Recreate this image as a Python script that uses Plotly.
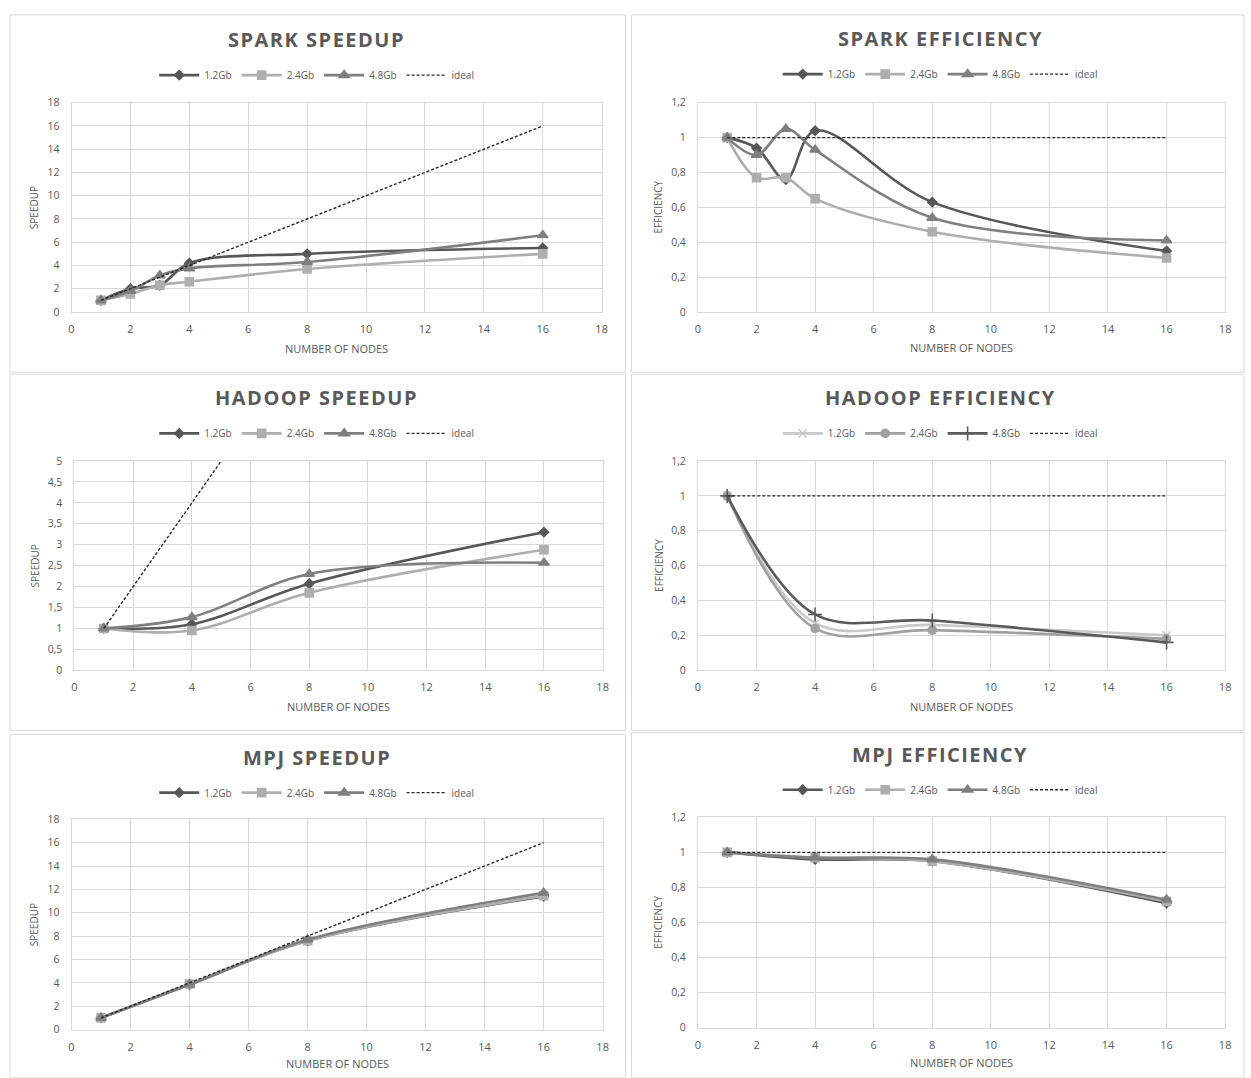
import plotly.graph_objects as go

W, H = 1251, 1078

# ---------------- DATA ----------------
series_names = ["1.2Gb", "2.4Gb", "4.8Gb", "ideal"]
x_ticks = [0, 2, 4, 6, 8, 10, 12, 14, 16, 18]

spark_nodes = [1, 2, 3, 4, 8, 16]
spark_speedup_12 = [1.0, 2.0, 2.3, 4.2, 5.0, 5.5]
spark_speedup_24 = [1.0, 1.55, 2.3, 2.6, 3.7, 5.0]
spark_speedup_48 = [1.0, 1.8, 3.15, 3.75, 4.3, 6.6]
spark_speedup_ideal = [1, 2, 3, 4, 8, 16]
spark_eff_12 = [1.0, 0.94, 0.76, 1.04, 0.63, 0.35]
spark_eff_24 = [1.0, 0.77, 0.77, 0.65, 0.46, 0.31]
spark_eff_48 = [1.0, 0.90, 1.05, 0.93, 0.54, 0.41]
spark_eff_ideal = [1, 1, 1, 1, 1, 1]

hadoop_nodes = [1, 4, 8, 16]
hadoop_speedup_12 = [1.0, 1.1, 2.07, 3.3]
hadoop_speedup_24 = [1.0, 0.95, 1.85, 2.88]
hadoop_speedup_48 = [1.0, 1.27, 2.3, 2.57]
hadoop_speedup_ideal = [1, 4, 8, 16]
hadoop_eff_12 = [1.0, 0.27, 0.26, 0.20]
hadoop_eff_24 = [1.0, 0.24, 0.23, 0.18]
hadoop_eff_48 = [1.0, 0.32, 0.285, 0.16]
hadoop_eff_ideal = [1, 1, 1, 1]

mpj_nodes = [1, 4, 8, 16]
mpj_speedup_12 = [1.0, 3.85, 7.6, 11.4]
mpj_speedup_24 = [1.0, 3.9, 7.6, 11.45]
mpj_speedup_48 = [1.0, 3.85, 7.7, 11.7]
mpj_speedup_ideal = [1, 4, 8, 16]
mpj_eff_12 = [1.0, 0.96, 0.95, 0.71]
mpj_eff_24 = [1.0, 0.97, 0.95, 0.72]
mpj_eff_48 = [1.0, 0.97, 0.96, 0.73]
mpj_eff_ideal = [1, 1, 1, 1]

speedup_ticks = [0, 2, 4, 6, 8, 10, 12, 14, 16, 18]
hadoop_speedup_ticks = [0, 0.5, 1, 1.5, 2, 2.5, 3, 3.5, 4, 4.5, 5]
eff_ticks = [0, 0.2, 0.4, 0.6, 0.8, 1.0, 1.2]

# ---------------- STYLE ----------------
TXT = "#595959"
GRID = "#d9d9d9"
FONT = "Open Sans"

std_styles = [
    dict(color="#575757", symbol="diamond", size=7),
    dict(color="#aeaeae", symbol="square", size=8),
    dict(color="#7f7f7f", symbol="triangle-up", size=9),
]
hadoop_eff_styles = [
    dict(color="#c9c9c9", symbol="x-thin", size=8),
    dict(color="#a0a0a0", symbol="circle", size=8),
    dict(color="#5a5a5a", symbol="cross-thin", size=10),
]

panels = [
    dict(title="SPARK SPEEDUP", ytitle="SPEEDUP", x=spark_nodes,
         ys=[spark_speedup_12, spark_speedup_24, spark_speedup_48, spark_speedup_ideal],
         yticks=speedup_ticks, yrange=[0, 18], styles=std_styles,
         px=(69, 603), py=(97, 309), cx=316, title_y=33, leg_y=69, xt_y=346, yt_x=32,
         box=(7, 8, 627, 370)),
    dict(title="SPARK EFFICIENCY", ytitle="EFFICIENCY", x=spark_nodes,
         ys=[spark_eff_12, spark_eff_24, spark_eff_48, spark_eff_ideal],
         yticks=eff_ticks, yrange=[0, 1.2], styles=std_styles,
         px=(700, 1231), py=(97, 309), cx=944, title_y=32, leg_y=68, xt_y=345, yt_x=660,
         box=(633, 8, 1250, 370)),
    dict(title="HADOOP SPEEDUP", ytitle="SPEEDUP", x=hadoop_nodes,
         ys=[hadoop_speedup_12, hadoop_speedup_24, hadoop_speedup_48, hadoop_speedup_ideal],
         yticks=hadoop_speedup_ticks, yrange=[0, 5], styles=std_styles,
         px=(72, 604), py=(460, 672), cx=316, title_y=396, leg_y=432, xt_y=709, yt_x=32,
         box=(7, 372, 627, 733)),
    dict(title="HADOOP EFFICIENCY", ytitle="EFFICIENCY", x=hadoop_nodes,
         ys=[hadoop_eff_12, hadoop_eff_24, hadoop_eff_48, hadoop_eff_ideal],
         yticks=eff_ticks, yrange=[0, 1.2], styles=hadoop_eff_styles,
         px=(700, 1231), py=(460, 672), cx=944, title_y=396, leg_y=432, xt_y=709, yt_x=660,
         box=(633, 372, 1250, 733)),
    dict(title="MPJ SPEEDUP", ytitle="SPEEDUP", x=mpj_nodes,
         ys=[mpj_speedup_12, mpj_speedup_24, mpj_speedup_48, mpj_speedup_ideal],
         yticks=speedup_ticks, yrange=[0, 18], styles=std_styles,
         px=(69, 604), py=(823, 1036), cx=316, title_y=760, leg_y=796, xt_y=1070, yt_x=32,
         box=(7, 737, 627, 1085)),
    dict(title="MPJ EFFICIENCY", ytitle="EFFICIENCY", x=mpj_nodes,
         ys=[mpj_eff_12, mpj_eff_24, mpj_eff_48, mpj_eff_ideal],
         yticks=eff_ticks, yrange=[0, 1.2], styles=std_styles,
         px=(700, 1231), py=(821, 1034), cx=944, title_y=757, leg_y=793, xt_y=1069, yt_x=660,
         box=(633, 735, 1250, 1085)),
]


def fx(p):
    return p / W


def fy(p):
    return 1 - p / H


def fmt(v):
    s = ("%g" % v)
    return s.replace(".", ",")


fig = go.Figure()
layout = dict(width=W, height=H, margin=dict(l=0, r=0, t=0, b=0),
              paper_bgcolor="white", plot_bgcolor="white",
              font=dict(family=FONT, color=TXT), showlegend=True)
annotations = []
shapes = []

for i, p in enumerate(panels):
    n = i + 1
    xa = "x" if n == 1 else f"x{n}"
    ya = "y" if n == 1 else f"y{n}"
    lg = "legend" if n == 1 else f"legend{n}"
    for k in range(3):
        st = p["styles"][k]
        fig.add_trace(go.Scatter(
            x=p["x"], y=p["ys"][k], name=series_names[k], mode="lines+markers",
            line=dict(color=st["color"], width=2.6, shape="spline", smoothing=1.0),
            marker=dict(symbol=st["symbol"], size=st["size"], color=st["color"],
                        line=dict(color=st["color"], width=1.6)),
            xaxis=xa, yaxis=ya, legend=lg, cliponaxis=True))
    fig.add_trace(go.Scatter(
        x=p["x"], y=p["ys"][3], name=series_names[3], mode="lines",
        line=dict(color="#262626", width=1.4, dash="3px,2px"),
        xaxis=xa, yaxis=ya, legend=lg))

    axkey_x = "xaxis" if n == 1 else f"xaxis{n}"
    axkey_y = "yaxis" if n == 1 else f"yaxis{n}"
    layout[axkey_x] = dict(
        domain=[fx(p["px"][0]), fx(p["px"][1])], anchor=ya, range=[0, 18],
        tickvals=x_ticks, ticktext=[str(t) for t in x_ticks],
        showgrid=True, gridcolor=GRID, gridwidth=1, zeroline=False,
        showline=True, linecolor=GRID, mirror=True,
        ticks="outside", ticklen=7, tickcolor="rgba(0,0,0,0)",
        tickfont=dict(size=11, color=TXT, family=FONT), fixedrange=True)
    layout[axkey_y] = dict(
        domain=[fy(p["py"][1]), fy(p["py"][0])], anchor=xa, range=p["yrange"],
        tickvals=p["yticks"], ticktext=[fmt(t) for t in p["yticks"]],
        showgrid=True, gridcolor=GRID, gridwidth=1, zeroline=False,
        showline=True, linecolor=GRID, mirror=True,
        ticks="outside", ticklen=9, tickcolor="rgba(0,0,0,0)",
        tickfont=dict(size=10.5, color=TXT, family=FONT), fixedrange=True)
    layout[lg] = dict(
        orientation="h", x=fx(p["cx"]), xanchor="center", y=fy(p["leg_y"]), yanchor="middle",
        font=dict(size=10, color=TXT, family=FONT), bgcolor="rgba(0,0,0,0)",
        itemwidth=40, tracegroupgap=0, entrywidth=0)

    annotations.append(dict(
        text=f"<span style=\"letter-spacing:1.5px\"><b>{p['title']}</b></span>",
        x=fx(p["cx"]), y=fy(p["title_y"]),
        xref="paper", yref="paper", xanchor="center", yanchor="middle", showarrow=False,
        font=dict(size=20, color=TXT, family=FONT)))
    annotations.append(dict(
        text="NUMBER OF NODES", x=fx((p["px"][0] + p["px"][1]) / 2), y=fy(p["xt_y"]),
        xref="paper", yref="paper", xanchor="center", yanchor="middle", showarrow=False,
        font=dict(size=11, color=TXT, family=FONT)))
    annotations.append(dict(
        text=p["ytitle"], x=fx(p["yt_x"]), y=fy((p["py"][0] + p["py"][1]) / 2),
        xref="paper", yref="paper", xanchor="center", yanchor="middle", showarrow=False,
        textangle=-90, font=dict(size=10, color=TXT, family=FONT)))
    b = p["box"]
    shapes.append(dict(type="rect", xref="paper", yref="paper",
                       x0=fx(b[0]), x1=fx(b[2]), y0=fy(b[3]), y1=fy(b[1]),
                       line=dict(color="#d9d9d9", width=1), fillcolor="rgba(0,0,0,0)",
                       layer="below"))

layout["annotations"] = annotations
layout["shapes"] = shapes
fig.update_layout(**layout)

post = (
    "document.documentElement.style.margin='0';"
    "document.documentElement.style.padding='0';"
    "document.documentElement.style.overflow='hidden';"
    "document.body.style.margin='0';"
    "document.body.style.padding='0';"
    "document.body.style.overflow='hidden';"
    "var d=document.getElementById('{plot_id}');"
    "d.style.position='fixed';d.style.left='0px';d.style.top='0px';"
)
fig.write_html("out.html", post_script=post, config={"displayModeBar": False})
